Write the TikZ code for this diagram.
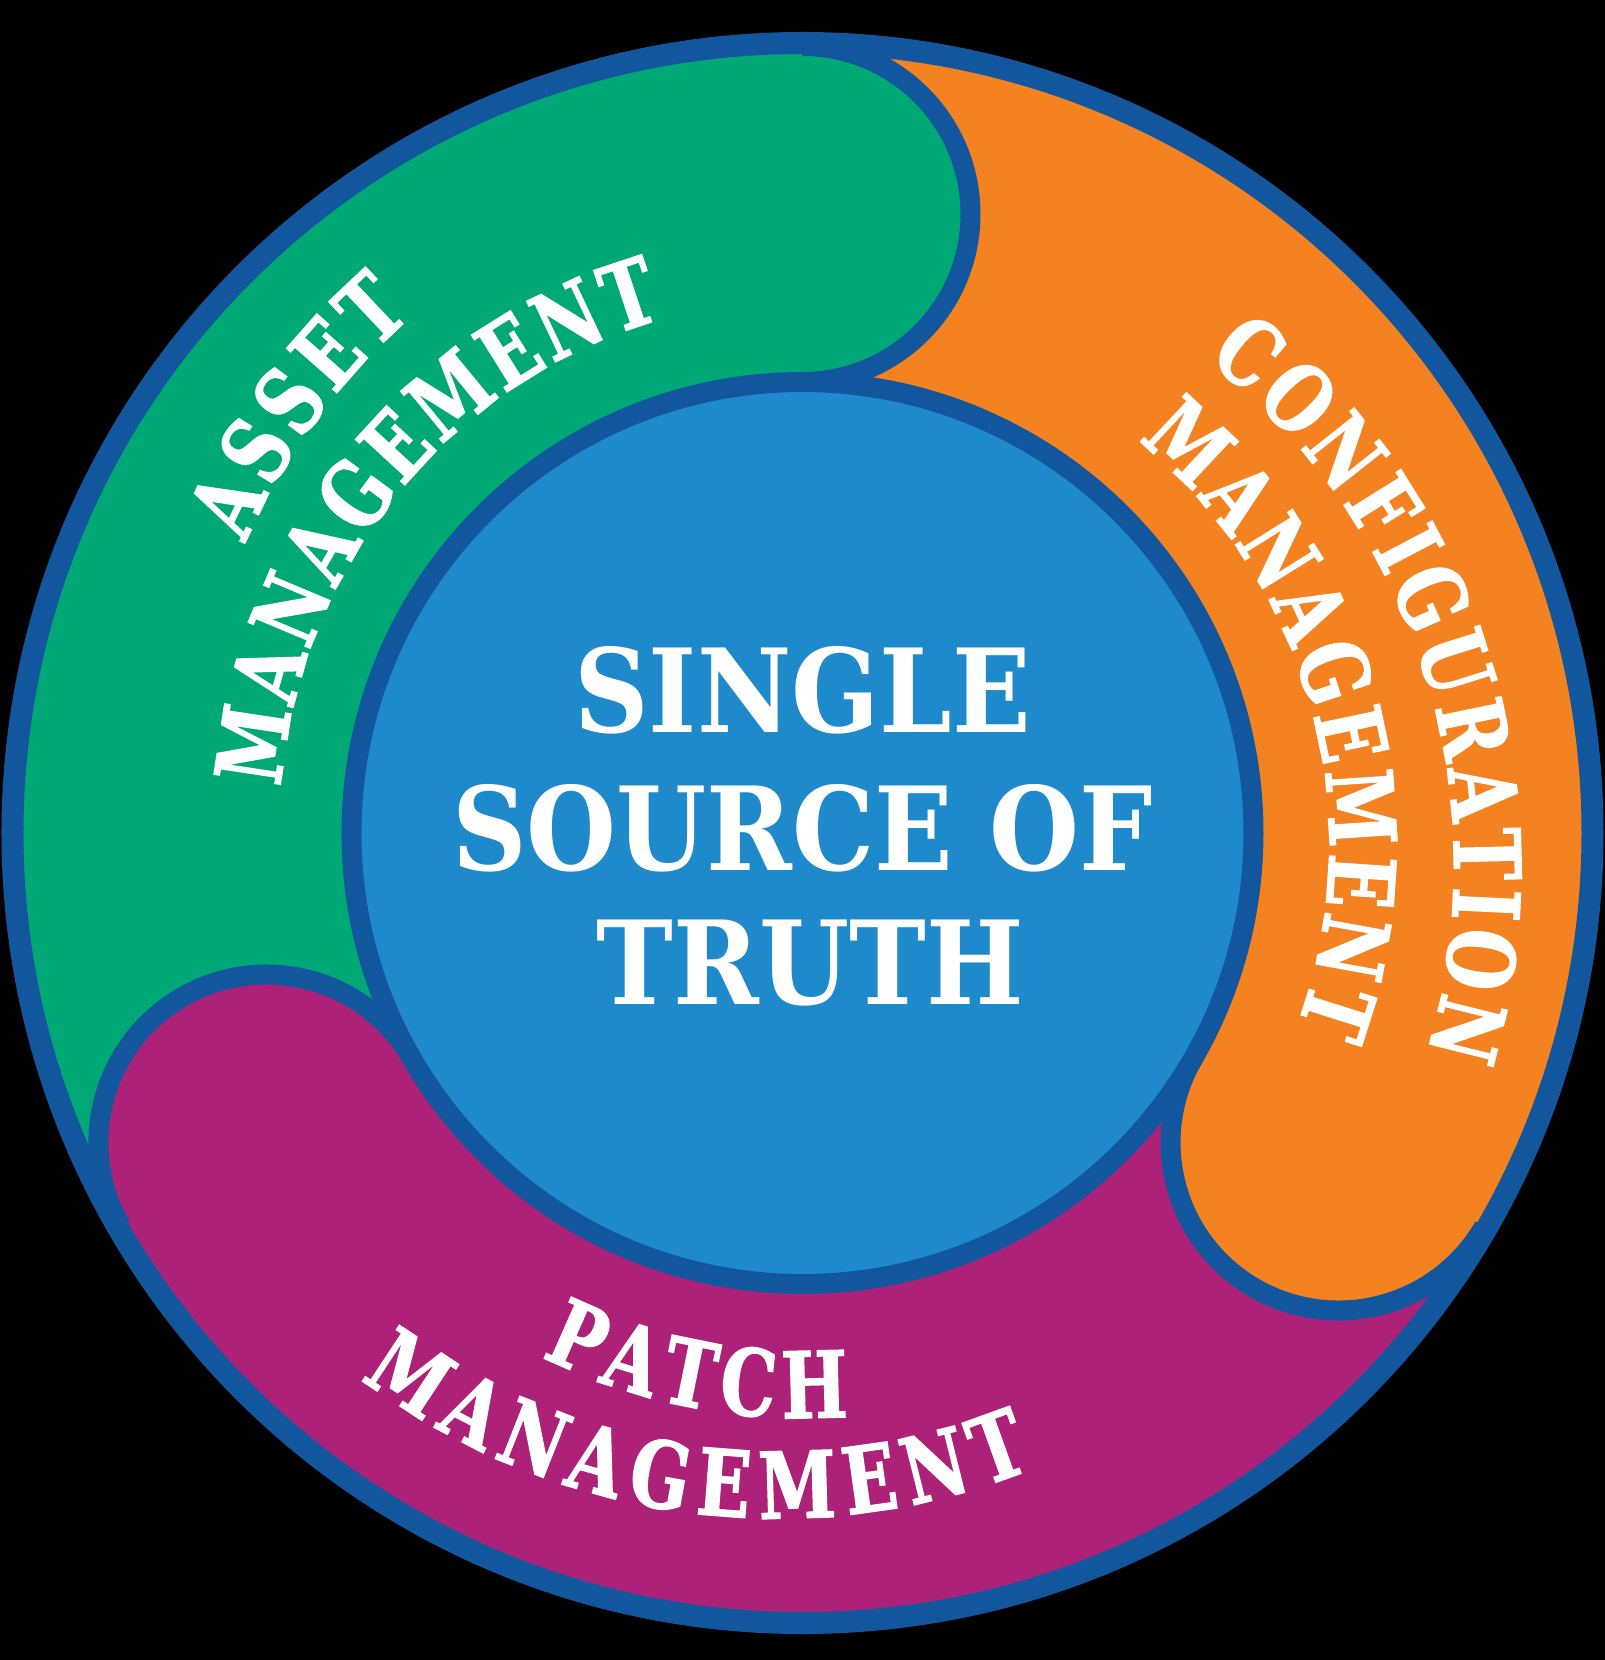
\documentclass[tikz,border=0pt]{standalone}
\usepackage{fontspec}
\usetikzlibrary{decorations.text}
\newfontfamily\centerfont{DejaVu Serif}[FakeStretch=0.89]
\newfontfamily\labfont{DejaVu Serif}[FakeStretch=0.76,FakeBold=1.5]
\newcommand\labstyle{\labfont\bfseries\fontsize{46}{48}\selectfont}
\definecolor{ringblue}{RGB}{18,87,157}
\definecolor{coreblue}{RGB}{31,138,203}
\definecolor{seggreen}{RGB}{0,168,117}
\definecolor{segorange}{RGB}{244,130,32}
\definecolor{segpurple}{RGB}{173,33,120}
\begin{document}
\begin{tikzpicture}[x=0.5pt,y=0.5pt,
  titletext/.style={text=white, inner sep=0pt, anchor=base,
    font=\centerfont\bfseries\fontsize{58}{60}\selectfont},
  arclabel/.style={decorate, decoration={text along path, text={|\labstyle|#1},
    text color=white, text align={fit to path}}}]
\useasboundingbox (-802.5,-827) rectangle (802.5,833);
\fill[black] (-802.5,-827) rectangle (802.5,833);
% segments
\fill[segorange] (0,0) -- (-30:790) arc[start angle=-30, end angle=90, radius=790] -- cycle;
\fill[segpurple] (0,0) -- (210:790) arc[start angle=210, end angle=330, radius=790] -- cycle;
\fill[seggreen] (0,0) -- (90:790) arc[start angle=90, end angle=210, radius=790] -- cycle;
% heads
\foreach \ang/\col in {90/seggreen, -30/segorange, 210/segpurple} {
  \fill[\col] (\ang:619) circle (168);
  \draw[ringblue, line width=10pt] (\ang:619) ++(\ang:168) arc[start angle=\ang, delta angle=-180, radius=168];
}
% outer ring
\draw[ringblue, line width=11pt] (0,0) circle (790);
% core
\draw[ringblue, line width=10pt, fill=coreblue] (0,0) circle (451);
% centre text
\node[titletext] (t1) at (0,100) {SINGLE};
\node[titletext] (t2) at (0,-37) {SOURCE OF};
\node[titletext] (t3) at (8,-171) {TRUTH};
% arc labels
\path[arclabel=ASSET] plot[domain=0:1, samples=80] ({152.5-25.5*\x}:{628+20*\x});
\path[arclabel=MANAGEMENT] plot[domain=0:1, samples=100] ({175-70*\x}:{523+10*\x});
\path[arclabel=CONFIGURATION] plot[domain=0:1, samples=100] ({49.5-69*\x}:{622+40*\x});
\path[arclabel=MANAGEMENT] plot[domain=0:1, samples=100] ({49.5-71*\x}:{516+15*\x});
\path[arclabel=PATCH] plot[domain=0:1, samples=80] ({243.5+31*\x}:585);
\path[arclabel=MANAGEMENT] plot[domain=0:1, samples=100] ({231+59*\x}:{702-26*\x});
\end{tikzpicture}
\end{document}
